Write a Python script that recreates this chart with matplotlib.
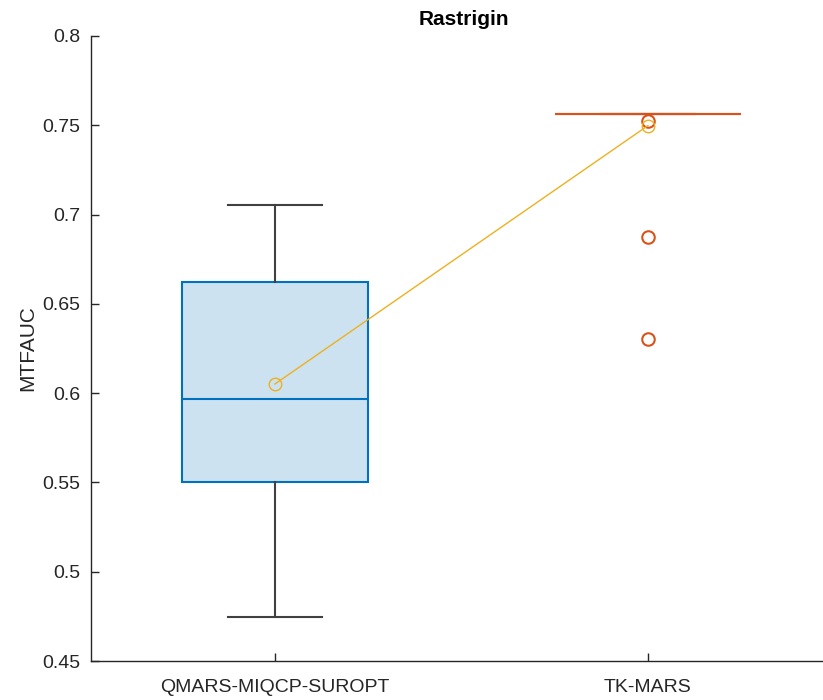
import numpy as np
import matplotlib
matplotlib.use("Agg")
import matplotlib.pyplot as plt

plt.rcParams['font.family'] = ['Liberation Sans', 'DejaVu Sans']

# summary statistics per method
methods = ["QMARS-MIQCP-SUROPT", "TK-MARS"]
q1 = [0.550, 0.7563]
med = [0.5967, 0.7563]
q3 = [0.6622, 0.7563]
whislo = [0.4746, 0.7563]
whishi = [0.7054, 0.7563]
fliers = [[], [0.7524, 0.6874, 0.6303]]
means = [0.6051, 0.7498]

blue = "#0072BD"
orange = "#D95319"
yellow = "#EDB120"
dark = "#262626"

fig = plt.figure(figsize=(8.23, 7.0), dpi=100)
ax = fig.add_axes([0.1106, 0.0557, 0.9064, 0.8929])

pos = np.arange(1, len(methods) + 1)
colors = [blue, orange]

for i in range(len(methods)):
    st = [dict(q1=q1[i], med=med[i], q3=q3[i], whislo=whislo[i],
               whishi=whishi[i], fliers=fliers[i], label=methods[i])]
    c = colors[i]
    ax.bxp(st, positions=[pos[i]], widths=0.5, patch_artist=True,
           showfliers=True, manage_ticks=False,
           boxprops=dict(facecolor=matplotlib.colors.to_rgba(c, 0.2), edgecolor=c, linewidth=1.5),
           medianprops=dict(color=c, linewidth=1.5),
           whiskerprops=dict(color="#404040", linewidth=1.5),
           capprops=dict(color="#404040", linewidth=1.5),
           capwidths=0.25,
           flierprops=dict(marker='o', markerfacecolor='none', markeredgecolor=c,
                           markersize=9, markeredgewidth=1.5, linestyle='none'))

# mean line across methods
ax.plot(pos, means, color=yellow, linewidth=1, marker='o', markersize=9,
        markerfacecolor='none', markeredgecolor=yellow, markeredgewidth=1)

ax.set_xlim(0.507, 2.507)
ax.set_ylim(0.45, 0.8)
ax.set_yticks([0.45, 0.5, 0.55, 0.6, 0.65, 0.7, 0.75, 0.8])
ax.set_yticklabels(["0.45", "0.5", "0.55", "0.6", "0.65", "0.7", "0.75", "0.8"])
ax.set_xticks(pos)
ax.set_xticklabels(methods)

ax.spines['top'].set_visible(False)
ax.spines['right'].set_visible(False)
for s in ['left', 'bottom']:
    ax.spines[s].set_color(dark)
    ax.spines[s].set_linewidth(1)
ax.tick_params(axis='y', direction='in', length=6, width=1, colors=dark, labelsize=14, pad=8)
ax.tick_params(axis='x', direction='in', length=6, width=1, colors=dark, labelsize=14, pad=13)

ax.set_ylabel("MTFAUC", fontsize=15, color=dark, labelpad=3)
ax.set_title("Rastrigin", fontsize=15, fontweight='bold', color='black', pad=8)

fig.savefig("out.png", dpi=100)
